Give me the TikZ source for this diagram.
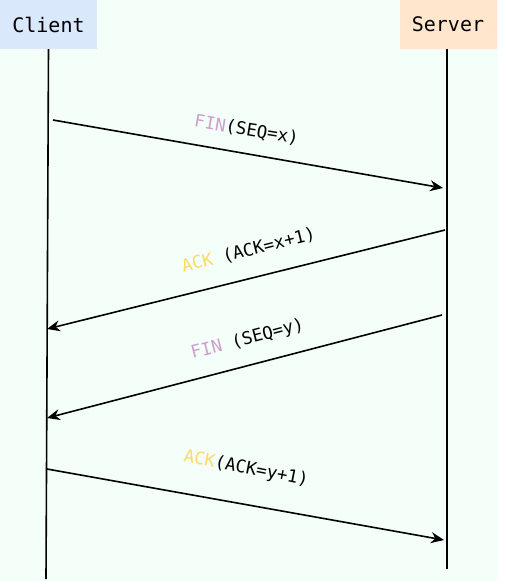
\documentclass[tikz,border=0pt]{standalone}
\usepackage{fontspec}
\newfontfamily\seqfont{DejaVu Sans Mono}
\usetikzlibrary{arrows.meta}
\definecolor{bgmint}{HTML}{F5FFFA}
\definecolor{clientblue}{HTML}{DAE8FC}
\definecolor{serverorange}{HTML}{FFE6CC}
\definecolor{finpink}{HTML}{CBA0CB}
\definecolor{ackyellow}{HTML}{FFD966}
\begin{document}
\begin{tikzpicture}[x=1pt,y=-1pt,
	hdr/.style={inner sep=0pt, minimum width=97pt, minimum height=49pt,
		font=\seqfont\fontsize{20}{24}\selectfont},
	lbl/.style={inner sep=0pt, font=\seqfont\fontsize{17.5}{21}\selectfont},
	life/.style={line width=1.6pt},
	msg/.style={line width=1.6pt, -{Stealth[length=13pt,width=11pt]}}]
	\useasboundingbox (0,0) rectangle (506,587);
	\fill[white] (0,0) rectangle (506,587);
	\fill[bgmint] (0,0) rectangle (498,581);
	
	\node[hdr, fill=clientblue] (client) at (48.5,24.5) {Client};
	\node[hdr, fill=serverorange] (server) at (448,24.5) {Server};
	
	\coordinate (cend) at (46,579);
	\coordinate (send) at (447,569);
	\coordinate (c1) at (53,120);
	\coordinate (s1) at (443,188);
	\coordinate (s2) at (445,230);
	\coordinate (c2) at (47,329);
	\coordinate (s3) at (442,315);
	\coordinate (c3) at (47,418);
	\coordinate (c4) at (47,469);
	\coordinate (s4) at (444,540);
	
	\draw[life] (client.south) -- (cend);
	\draw[life] (447,49) -- (send);
	
	\draw[msg] (c1) -- (s1);
	\draw[msg] (s2) -- (c2);
	\draw[msg] (s3) -- (c3);
	\draw[msg] (c4) -- (s4);
	
	\node[lbl, rotate=-9.5] (fin1) at (246.5,130) {\textcolor{finpink}{FIN}(SEQ=x)};
	\node[lbl, rotate=14] (ack1) at (248.5,250.5) {\textcolor{ackyellow}{ACK} (ACK=x+1)};
	\node[lbl, rotate=14.5] (fin2) at (247.5,339.5) {\textcolor{finpink}{FIN} (SEQ=y)};
	\node[lbl, rotate=-11] (ack2) at (246,469) {\textcolor{ackyellow}{ACK}(ACK=y+1)};
\end{tikzpicture}
\end{document}
